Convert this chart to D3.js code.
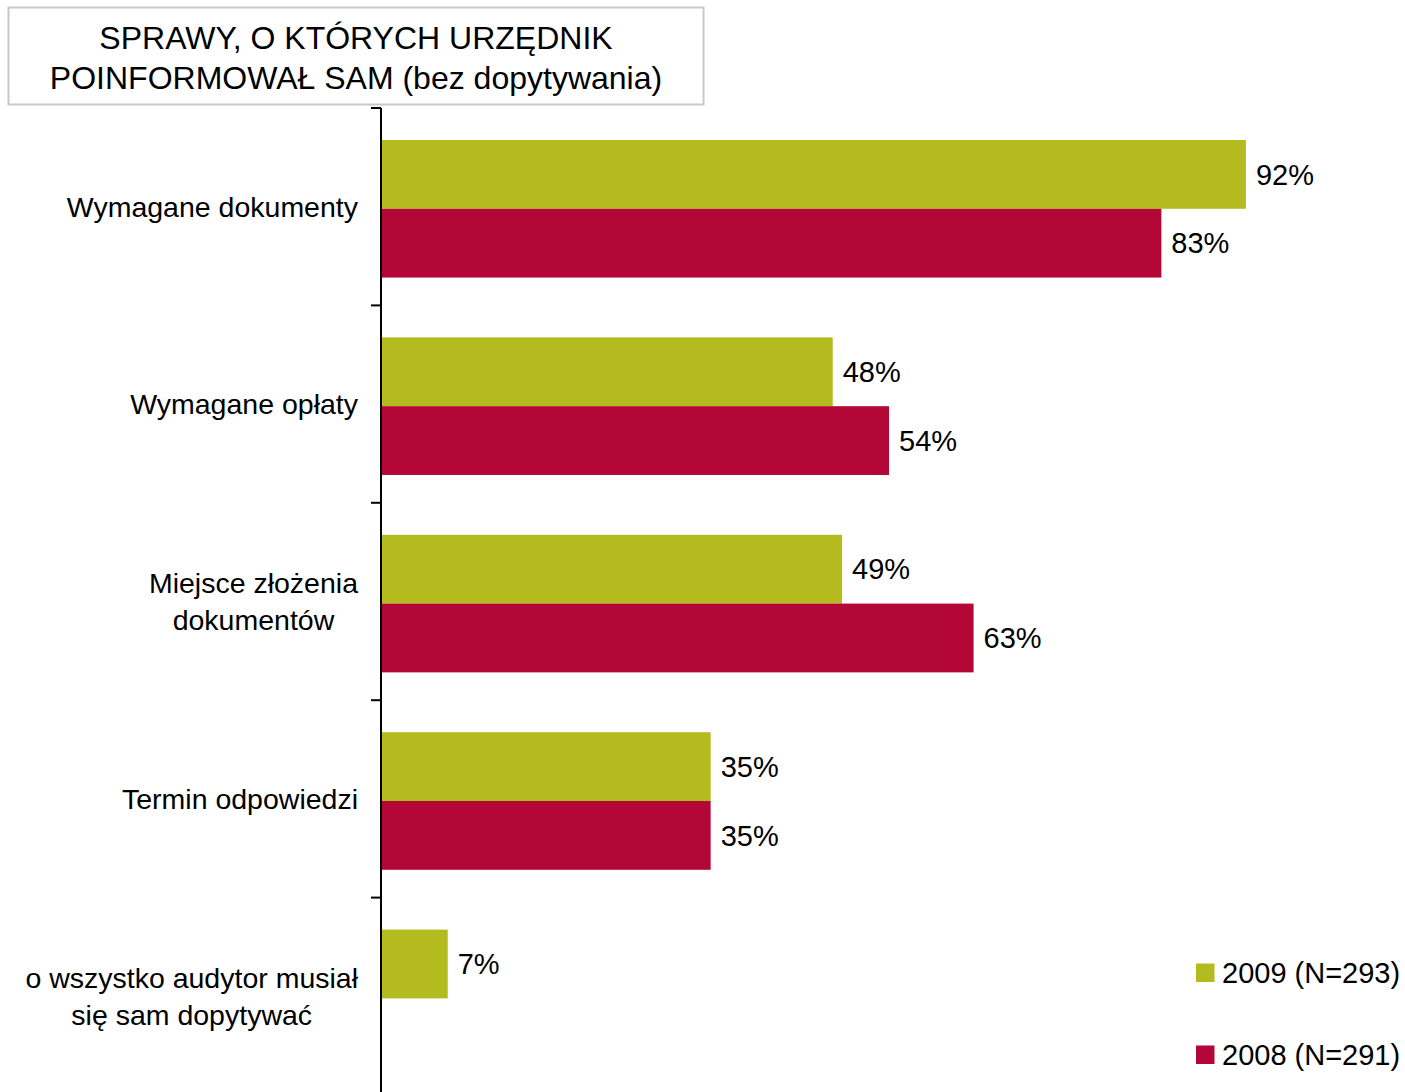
<!DOCTYPE html>
<html>
<head>
<meta charset="utf-8">
<script src="https://cdn.jsdelivr.net/npm/d3@7"></script>
<style>
  html, body { margin: 0; padding: 0; background: #fff; }
  svg { display: block; font-family: "Liberation Sans", Arial, sans-serif; }
</style>
</head>
<body>
<svg id="chart" width="1405" height="1092"></svg>
<script>
// Categories (each entry is a list of label lines)
const categories = [
  ["Wymagane dokumenty"],
  ["Wymagane opłaty"],
  ["Miejsce złożenia", "dokumentów"],
  ["Termin odpowiedzi"],
  ["o wszystko audytor musiał", "się sam dopytywać"]
];
const seriesNames = ["2009 (N=293)", "2008 (N=291)"];
const seriesKeys = ["2009", "2008"];
const values2009 = [92, 48, 49, 35, 7];
const values2008 = [83, 54, 63, 35, null];
const titleLines = ["SPRAWY, O KTÓRYCH URZĘDNIK", "POINFORMOWAŁ SAM (bez dopytywania)"];

const colors = { "2009": "#B3BB1E", "2008": "#B20737" };

const svg = d3.select("#chart");
const W = 1405, H = 1092;

const catIds = categories.map((c, i) => i);
const seriesValues = { "2009": values2009, "2008": values2008 };

// Scales
const x = d3.scaleLinear().domain([0, 100]).range([382, 1321]);
const y0 = d3.scaleBand().domain(catIds).range([108, 1095]).padding(0);
const y1 = d3.scaleBand().domain(seriesKeys).range([0, y0.bandwidth()])
  .paddingInner(0).paddingOuter(0.435).align(0.535);

// Title box
const title = svg.append("g");
title.append("rect")
  .attr("x", 8.5).attr("y", 7.5).attr("width", 695).attr("height", 97)
  .attr("fill", "#fff").attr("stroke", "#c8c8c8").attr("stroke-width", 2);
title.selectAll("text").data(titleLines).join("text")
  .attr("x", 356).attr("y", (d, i) => 38 + i * 40)
  .attr("dy", "0.35em")
  .attr("text-anchor", "middle")
  .attr("font-size", 32)
  .attr("fill", "#000")
  .text(d => d);

// Bars
const groups = svg.append("g").selectAll("g").data(catIds).join("g")
  .attr("transform", d => `translate(0,${y0(d)})`);

groups.each(function(ci) {
  const g = d3.select(this);
  const rows = seriesKeys
    .map(k => ({ key: k, value: seriesValues[k][ci] }))
    .filter(r => r.value != null);
  g.selectAll("rect").data(rows).join("rect")
    .attr("x", x(0))
    .attr("y", r => y1(r.key))
    .attr("width", r => x(r.value) - x(0))
    .attr("height", y1.bandwidth())
    .attr("fill", r => colors[r.key]);
  g.selectAll("text").data(rows).join("text")
    .attr("x", r => x(r.value) + 10)
    .attr("y", r => y1(r.key) + y1.bandwidth() / 2)
    .attr("dy", "0.35em")
    .attr("font-size", 29)
    .attr("fill", "#000")
    .text(r => r.value + "%");
});

// Category axis
const axis = svg.append("g");
axis.append("line")
  .attr("x1", 381).attr("x2", 381)
  .attr("y1", y0.range()[0]).attr("y2", H)
  .attr("stroke", "#000").attr("stroke-width", 2);
axis.selectAll("line.tick").data(catIds).join("line")
  .attr("class", "tick")
  .attr("x1", 371).attr("x2", 381)
  .attr("y1", d => y0(d)).attr("y2", d => y0(d))
  .attr("stroke", "#000").attr("stroke-width", 2);

// Category labels: centred block, widest line ends near the axis
const labelRight = 358;
const lineH = 36.5;
const labelGroups = svg.append("g").selectAll("g").data(catIds).join("g");
labelGroups.each(function(ci) {
  const g = d3.select(this);
  const lines = categories[ci];
  const cy = y0(ci) + y0.bandwidth() / 2;
  const texts = g.selectAll("text").data(lines).join("text")
    .attr("y", (d, i) => cy + (i - (lines.length - 1) / 2) * lineH)
    .attr("dy", "0.35em")
    .attr("text-anchor", "middle")
    .attr("font-size", 28.5)
    .attr("fill", "#000")
    .text(d => d);
  let maxW = 0;
  texts.each(function() { maxW = Math.max(maxW, this.getComputedTextLength()); });
  texts.attr("x", labelRight - maxW / 2);
});

// Legend
const legend = svg.append("g").selectAll("g").data(seriesKeys).join("g")
  .attr("transform", (d, i) => `translate(1196,${973 + i * 82})`);
legend.append("rect")
  .attr("x", 0).attr("y", -9.5).attr("width", 18.5).attr("height", 18.5)
  .attr("fill", d => colors[d]);
legend.append("text")
  .attr("x", 26).attr("y", 0).attr("dy", "0.35em")
  .attr("font-size", 29).attr("fill", "#000")
  .text((d, i) => seriesNames[i]);
</script>
</body>
</html>
